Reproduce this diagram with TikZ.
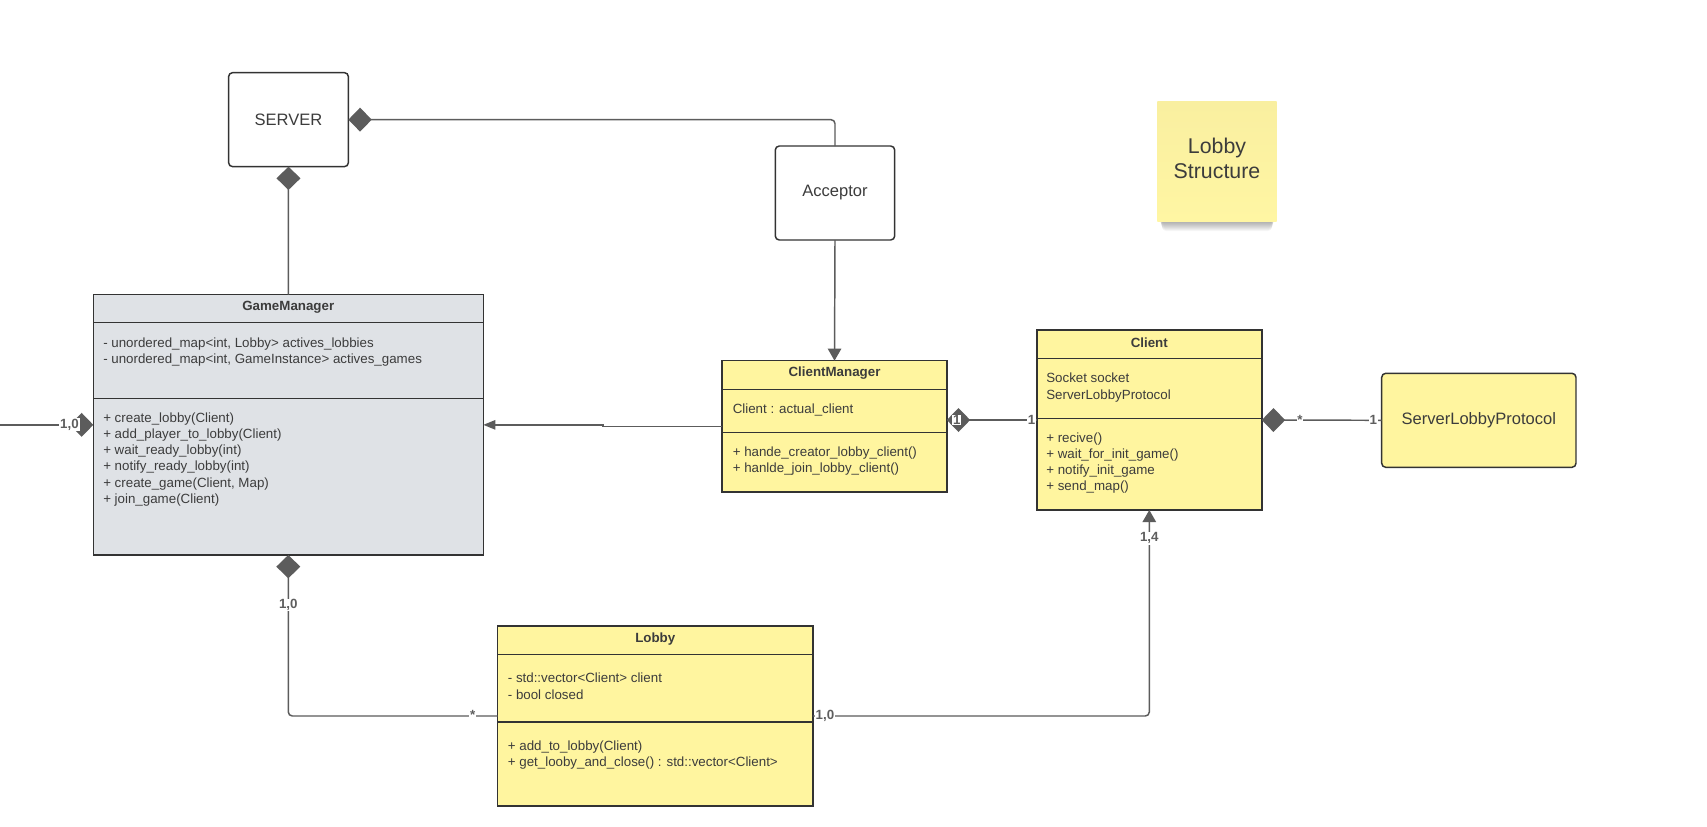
\documentclass[tikz,border=0pt]{standalone}
\usepackage{fontspec}
\setmainfont{Liberation Sans}
\usetikzlibrary{arrows.meta}

\definecolor{ink}{HTML}{3C3C3C}
\definecolor{edge}{HTML}{333333}
\definecolor{wire}{HTML}{5C5C5C}
\definecolor{multink}{HTML}{5E5E5E}
\definecolor{umlyellow}{HTML}{FFF59F}
\definecolor{umlgray}{HTML}{DFE2E6}
\definecolor{notetop}{HTML}{F9EFA0}
\definecolor{notebot}{HTML}{FFF6A3}

\tikzset{
  classbox/.style={draw=edge, line width=1.1pt, inner sep=0pt, outer sep=0pt},
  roundbox/.style={draw=edge, line width=1.1pt, rounded corners=3pt, inner sep=0pt,
    outer sep=0pt, text=ink, font=\fontsize{12.4}{15}\selectfont},
  sepline/.style={draw=edge, line width=1.1pt},
  classtitle/.style={text=ink, font=\fontsize{10}{12}\selectfont\bfseries, inner sep=0pt},
  member/.style={text=ink, font=\fontsize{10}{12}\selectfont, inner sep=0pt, anchor=base west},
  wire/.style={draw=wire, line width=1.1pt, rounded corners=3pt},
  compstart/.style={{Diamond[length=17.5pt,width=18pt,fill=wire]}-},
  compend/.style={-{Diamond[length=17.5pt,width=18pt,fill=wire]}},
  bigtip/.style={-{Triangle[length=9pt,width=10pt,fill=wire]}},
  smalltip/.style={-{Triangle[length=9pt,width=7pt,fill=wire]}},
  mult/.style={text=multink, font=\fontsize{10}{12}\selectfont\bfseries, fill=white,
    inner sep=0.6pt},
  stickynote/.style={inner sep=0pt, outer sep=0pt, top color=notetop, bottom color=notebot},
  notetext/.style={text=ink, align=center, inner sep=0pt, font=\fontsize{16}{18.75}\selectfont}
}

\begin{document}
\begin{tikzpicture}[x=0.75pt, y=-0.75pt]
  % canvas
  \fill[white] (0,0) rectangle (1707,826);
  \useasboundingbox (0,0) rectangle (1707,826);

  % ---------- simple boxes ----------
  \node[roundbox, fill=white, minimum width=89.85pt, minimum height=70.5pt] (server) at (288.5,119.65) {SERVER};
  \node[roundbox, fill=white, minimum width=89.55pt, minimum height=70.5pt] (acceptor) at (835,193) {Acceptor};
  \node[roundbox, fill=umlyellow, minimum width=145.7pt, minimum height=70.5pt] (slp) at (1478.85,420.3) {ServerLobbyProtocol};

  % ---------- sticky note with a soft shadow under its lower edge ----------
  \foreach \k in {1,...,10}
    \fill[black, opacity=0.035, rounded corners=3pt] (1159+0.3*\k,212) rectangle (1275-0.3*\k,221+\k);
  \node[stickynote, minimum width=89.55pt, minimum height=89.8pt] (note) at (1217,161.85) {};
  \node[notetext] (note-text) at (1217,158.6) {Lobby\\Structure};

  % ---------- GameManager ----------
  \node[classbox, fill=umlgray, minimum width=292.5pt, minimum height=195.2pt] (gm) at (288.3,424.85) {};
  \draw[sepline] (gm.west |- 0,322.7) -- (gm.east |- 0,322.7);
  \draw[sepline] (gm.west |- 0,398.3) -- (gm.east |- 0,398.3);
  \node[classtitle] (gm-title) at (288.3,307.5) {GameManager};
  \foreach \t [count=\i] in {{- unordered\_map<int, Lobby> actives\_lobbies},
                             {- unordered\_map<int, GameInstance> actives\_games}}
    \node[member] (gm-a\i) at (103, 347+16.2*\i-16.2) {\t};
  \foreach \t [count=\i] in {{+ create\_lobby(Client)}, {+ add\_player\_to\_lobby(Client)},
                             {+ wait\_ready\_lobby(int)}, {+ notify\_ready\_lobby(int)},
                             {+ create\_game(Client, Map)}, {+ join\_game(Client)}}
    \node[member] (gm-m\i) at (103, 422+16.3*\i-16.3) {\t};

  % ---------- ClientManager ----------
  \node[classbox, fill=umlyellow, minimum width=168.5pt, minimum height=98.5pt] (cm) at (834.5,426.35) {};
  \draw[sepline] (cm.west |- 0,389.3) -- (cm.east |- 0,389.3);
  \draw[sepline] (cm.west |- 0,432.7) -- (cm.east |- 0,432.7);
  \node[classtitle] (cm-title) at (834.5,373.5) {ClientManager};
  \node[member] (cm-a1) at (732.5,413) {Client : actual\_client};
  \foreach \t [count=\i] in {{+ hande\_creator\_lobby\_client()}, {+ hanlde\_join\_lobby\_client()}}
    \node[member] (cm-m\i) at (732.5, 456.5+16.2*\i-16.2) {\t};

  % ---------- Client ----------
  \node[classbox, fill=umlyellow, minimum width=168.75pt, minimum height=135pt] (client) at (1149.3,420) {};
  \draw[sepline] (client.west |- 0,358.3) -- (client.east |- 0,358.3);
  \draw[sepline] (client.west |- 0,418.3) -- (client.east |- 0,418.3);
  \node[classtitle] (client-title) at (1149.3,342.7) {Client};
  \foreach \t [count=\i] in {{Socket socket}, {ServerLobbyProtocol}}
    \node[member] (client-a\i) at (1046, 382.8+16.2*\i-16.2) {\t};
  \foreach \t [count=\i] in {{+ recive()}, {+ wait\_for\_init\_game()}, {+ notify\_init\_game}, {+ send\_map()}}
    \node[member] (client-m\i) at (1046, 442+16.2*\i-16.2) {\t};

  % ---------- Lobby ----------
  \node[classbox, fill=umlyellow, minimum width=236.3pt, minimum height=135pt] (lobby) at (655.25,716) {};
  \draw[sepline] (lobby.west |- 0,654.3) -- (lobby.east |- 0,654.3);
  \draw[sepline] (lobby.west |- 0,722) -- (lobby.east |- 0,722);
  \node[classtitle] (lobby-title) at (655.25,639) {Lobby};
  \foreach \t [count=\i] in {{- std::vector<Client> client}, {- bool closed}}
    \node[member] (lobby-a\i) at (507.6, 682.5+16.5*\i-16.5) {\t};
  \foreach \t [count=\i] in {{+ add\_to\_lobby(Client)}, {+ get\_looby\_and\_close() : std::vector<Client>}}
    \node[member] (lobby-m\i) at (507.6, 750+16.2*\i-16.2) {\t};

  % ---------- connectors ----------
  \coordinate (leftend) at (0,424.85);
  \coordinate (jog) at (603,0);

  \draw[wire, compstart] (server.east) -| (acceptor.north);
  \draw[wire, compstart] (server.south) -- (gm.north);
  \draw[wire, bigtip] (acceptor.south) -- (cm.north);
  \draw[wire, smalltip, sharp corners] (cm.west) -- (cm.west -| jog) |- (gm.east);
  \draw[wire, compend] (leftend) -- (gm.west);
  \draw[wire, compstart] (cm.east |- client.west) -- (client.west);
  \draw[wire, compstart] (client.east) -- (slp.west);
  \draw[wire, compstart] (gm.south) |- (lobby.west);
  \draw[wire, bigtip] (lobby.east) -| (client.south);

  % ---------- multiplicities ----------
  \node[mult] (mult-gm-left) at (69.5,424.85) {1,0};
  \node[mult] (mult-cm) at (956.7,420) {1};
  \node[mult] (mult-client-left) at (1031.5,420) {1};
  \node[mult] (mult-client-right) at (1300,420) {*};
  \node[mult] (mult-slp) at (1373.3,420) {1};
  \node[mult] (mult-gm-bottom) at (288.3,605) {1,0};
  \node[mult] (mult-lobby-left) at (472.8,715) {*};
  \node[mult] (mult-lobby-right) at (825,716) {1,0};
  \node[mult] (mult-client-bottom) at (1149.3,538.3) {1,4};
\end{tikzpicture}
\end{document}
